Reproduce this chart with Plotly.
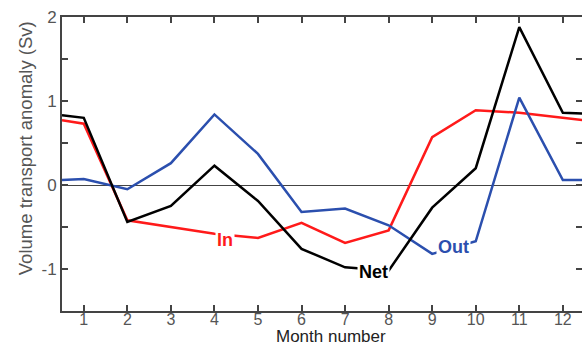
import plotly.graph_objects as go

# Month positions (edges at 0.5 / 12.5 as drawn in the picture)
months = [0.5, 1, 2, 3, 4, 5, 6, 7, 8, 9, 10, 11, 12, 12.5]
net = [0.83, 0.80, -0.44, -0.25, 0.23, -0.19, -0.76, -0.98, -1.02, -0.27, 0.20, 1.88, 0.86, 0.85]
inflow = [0.77, 0.73, -0.42, -0.50, -0.58, -0.63, -0.45, -0.69, -0.54, 0.57, 0.89, 0.86, 0.80, 0.77]
outflow = [0.06, 0.07, -0.05, 0.26, 0.84, 0.37, -0.32, -0.28, -0.48, -0.82, -0.67, 1.04, 0.06, 0.06]

xtick_vals = list(range(1, 13))
ytick_vals = [-1.5, -1, -0.5, 0, 0.5, 1, 1.5, 2]
ytick_text = ["", "-1", "", "0", "", "1", "", "2"]

RED = "#ff1a1a"
BLUE = "#2b4fae"
BLACK = "#000000"
AXIS = "#444444"
FONT = "Liberation Sans, Arial, sans-serif"

fig = go.Figure()
fig.add_trace(go.Scatter(x=months, y=inflow, mode="lines", line=dict(color=RED, width=2.5), name="In"))
fig.add_trace(go.Scatter(x=months, y=outflow, mode="lines", line=dict(color=BLUE, width=2.5), name="Out"))
fig.add_trace(go.Scatter(x=months, y=net, mode="lines", line=dict(color=BLACK, width=2.5), name="Net"))

labels = [("In", 4.24, -0.65, RED), ("Out", 9.5, -0.74, BLUE), ("Net", 7.65, -1.03, BLACK)]
for txt, x, y, c in labels:
    fig.add_annotation(x=x, y=y, text=f"<b>{txt}</b>", showarrow=False,
                       font=dict(family=FONT, size=18, color=c),
                       bgcolor="white", borderpad=1)

# axis titles
fig.add_annotation(xref="paper", yref="paper", x=0.517, y=-0.1224, text="Month number",
                   showarrow=False, xanchor="center", yanchor="bottom", borderpad=0,
                   font=dict(family=FONT, size=17, color="#222222"))
fig.add_annotation(xref="paper", yref="paper", x=-0.071, y=0.554, text="Volume transport anomaly (Sv)",
                   showarrow=False, xanchor="center", yanchor="middle", textangle=-90,
                   font=dict(family=FONT, size=18.5, color="#555555"))

fig.update_layout(
    width=582, height=347,
    margin=dict(l=62, r=0, t=17, b=36),
    paper_bgcolor="white", plot_bgcolor="white",
    showlegend=False,
    font=dict(family=FONT, size=16, color="#555555"),
    xaxis=dict(
        range=[0.5, 12.44], tickvals=xtick_vals, ticks="inside", ticklen=6, tickwidth=2,
        tickcolor=AXIS, showline=True, linecolor=AXIS, linewidth=2, mirror="ticks",
        showgrid=False, zeroline=False, automargin=False, ticklabelstandoff=-7,
        tickfont=dict(size=16, color="#555555"),
    ),
    yaxis=dict(
        range=[-1.5, 2], tickvals=ytick_vals, ticktext=ytick_text, ticks="inside", ticklen=6,
        tickwidth=2, tickcolor=AXIS, showline=True, linecolor=AXIS, linewidth=2, mirror="ticks",
        showgrid=False, zeroline=True, zerolinecolor=AXIS, zerolinewidth=1, automargin=False,
        tickfont=dict(size=17, color="#555555"),
    ),
)

fig.write_html("out.html", config={"displayModeBar": False},
               post_script="document.body.style.margin='0';document.body.style.overflow='hidden';")
